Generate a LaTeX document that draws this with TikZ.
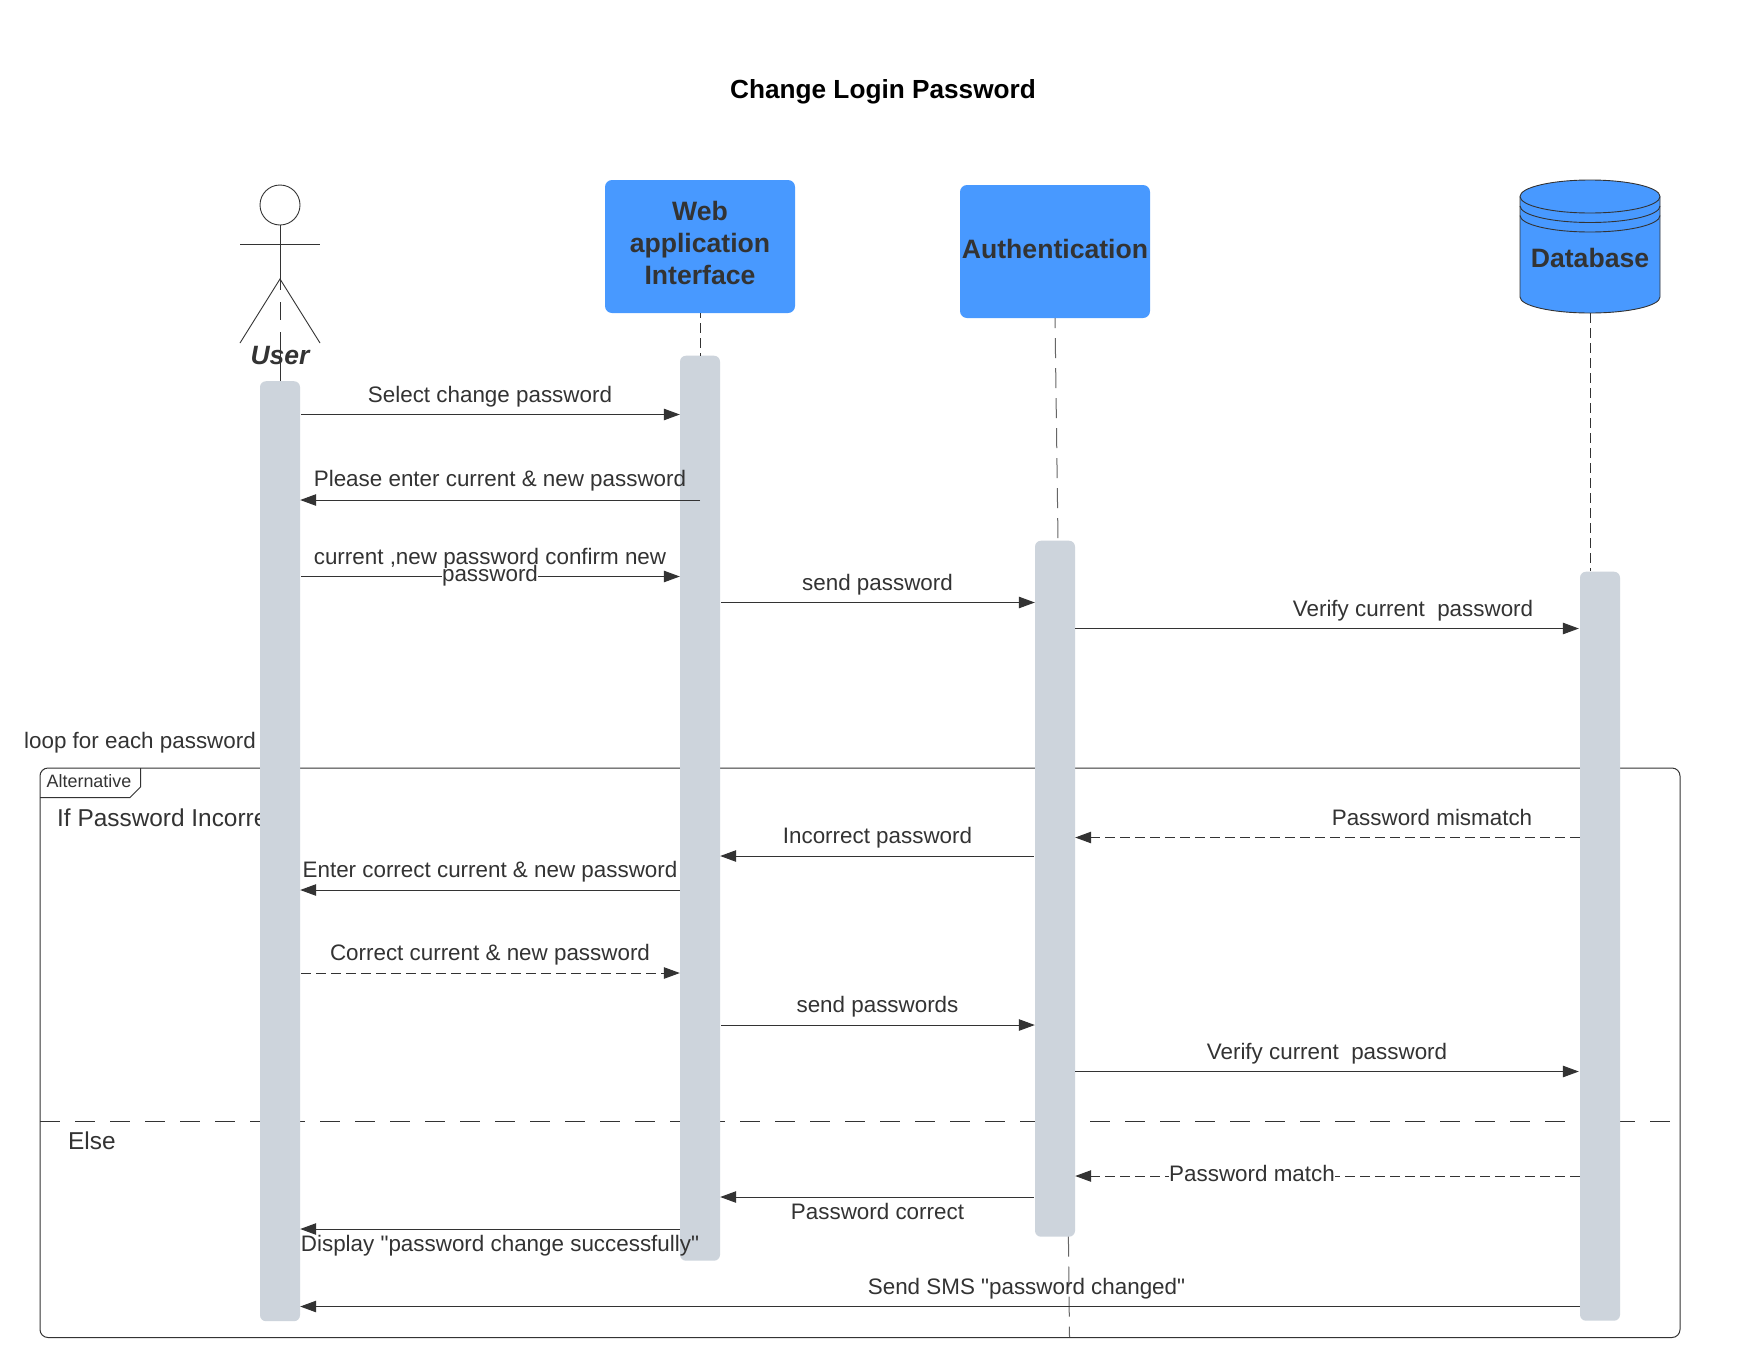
\documentclass[tikz,border=0pt]{standalone}
\usepackage{fontspec}
\setmainfont[Ligatures=TeXOff]{Liberation Sans}
\usetikzlibrary{arrows.meta}
\definecolor{ink}{HTML}{333333}
\definecolor{boxblue}{HTML}{4899FF}
\definecolor{bar}{HTML}{CDD4DC}
\definecolor{life}{HTML}{666666}
\tikzset{
  x=1pt,y=-1pt,
  lbl/.style={inner sep=0pt,text=ink,text height=16pt,text depth=5pt,font=\fontsize{22.4}{26}\selectfont},
  biglbl/.style={lbl,font=\fontsize{24.4}{28}\selectfont},
  actbar/.style={fill=bar,draw=none,rounded corners=6pt,minimum width=40pt,inner sep=0pt,anchor=north},
  head/.style={fill=boxblue,draw=none,rounded corners=7pt,minimum width=190pt,inner sep=0pt},
  headtext/.style={inner sep=0pt,text=ink,align=center,font=\bfseries\fontsize{26.6}{32}\selectfont},
  msg/.style={draw=ink,line width=1pt,-{Triangle[length=16pt,width=11.5pt]}},
  dmsg/.style={msg,dash pattern=on 10pt off 5pt},
  lifeline/.style={draw=ink,line width=1pt,dash pattern=on 10pt off 5pt},
  lifelong/.style={draw=life,line width=1pt,dash pattern=on 20pt off 10pt},
  stick/.style={draw=ink,line width=.9pt},
  frameline/.style={draw=ink,line width=1pt},
}
\begin{document}
\begin{tikzpicture}
\useasboundingbox (0,0) rectangle (1760,1360);
\fill[white] (0,0) rectangle (1760,1360);

% message rows
\foreach \n/\y in {m1/414.5,m2/500,m3/576.5,m4/602.5,m5/628.5,m6/837.5,m7/856,m8/890,m9/973,m10/1025,m11/1071.5,m12/1176,m13/1197,m14/1229,m15/1306.5}
  \coordinate (\n) at (0,\y);

% title
\node[inner sep=0pt,text=black,font=\bfseries\fontsize{26.2}{30}\selectfont] (title) at (883,91.5) {Change Login Password};

% frame
\coordinate (frTL) at (40,768);
\coordinate (frBR) at (1680,1337.5);
\coordinate (tabA) at (140.5,768);
\coordinate (tabB) at (140.5,787);
\coordinate (tabC) at (130,797.5);
\coordinate (tabD) at (40,797.5);
\coordinate (partL) at (40,1121);
\coordinate (partR) at (1671,1121);
\draw[frameline,rounded corners=8pt] (frTL) rectangle (frBR);
\draw[frameline] (tabA) -- (tabB) -- (tabC) -- (tabD);
\draw[frameline,dash pattern=on 20pt off 15pt] (partL) -- (partR);
\node[lbl,font=\fontsize{17.9}{21}\selectfont,text height=13pt,text depth=4pt] (alt) at (89,782.5) {Alternative};
\node[lbl,anchor=west] (loop) at (24,743) {loop for each password};
\node[biglbl,anchor=west] (incorrect) at (57,821) {If Password Incorrect};
\node[biglbl,anchor=west] (else) at (68,1143.5) {Else};

% actor
\coordinate (uc) at (280,205);
\node[draw=ink,line width=.9pt,circle,minimum size=40pt,inner sep=0pt] (uhead) at (uc) {};
\coordinate (hip) at (280,279);
\coordinate (armL) at (240,244);
\coordinate (armR) at (320,244);
\coordinate (footL) at (240,343);
\coordinate (footR) at (320,343);
\draw[stick] (uhead.south) -- (hip);
\draw[stick] (armL) -- (armR);
\draw[stick] (footL) -- (hip) -- (footR);
\node[lbl,font=\bfseries\itshape\fontsize{26.5}{30}\selectfont,text height=18pt,text depth=1pt] (user) at (280,356) {User};

% heads
\node[head,minimum height=133pt] (web) at (700,246.5) {};
\node[headtext] (webt) at (700,243) {Web\\application\\Interface};
\node[head,minimum height=133pt] (auth) at (1055,251.5) {};
\node[headtext] (autht) at (1055,248.5) {Authentication};

% database
\fill[boxblue,draw=ink,line width=.9pt] (1520,196.5) arc[start angle=180,end angle=360,x radius=70,y radius=16.5] -- (1660,297) arc[start angle=0,end angle=180,x radius=70,y radius=16] -- cycle;
\draw[ink,line width=.9pt] (1520,196.5) arc[start angle=180,end angle=0,x radius=70,y radius=16.5];
\draw[ink,line width=.9pt] (1520,206) arc[start angle=180,end angle=0,x radius=70,y radius=16.5];
\draw[ink,line width=.9pt] (1520,215.5) arc[start angle=180,end angle=0,x radius=70,y radius=16.5];
\node[inner sep=0pt,minimum width=140pt,minimum height=134pt] (db) at (1590,246) {};
\node[headtext] (dbt) at (1590,258) {Database};

% activation bars
\node[actbar,minimum height=940pt] (uact) at (280,381) {};
\node[actbar,minimum height=905pt] (wact) at (700,355.5) {};
\node[actbar,minimum height=696pt] (aact) at (1055,540.5) {};
\node[actbar,minimum height=749pt] (dact) at (1600,571.5) {};

% lifelines
\coordinate (ustart) at (280,279);
\coordinate (aend) at (1069.5,1337);
\coordinate (atop) at (1058,540);
\coordinate (abot) at (1068.4,1236.5);
\coordinate (dtop) at (1590,571);
\draw[draw=ink,line width=1pt,dash pattern=on 11pt off 12pt on 18pt off 12pt on 60pt] (ustart) -- (uact.north);
\draw[lifeline,dash phase=5pt] (web.south) -- (wact.north);
\draw[lifelong,dash phase=10pt] (auth.south) -- (atop);
\draw[lifelong] (abot) -- (aend);
\draw[lifeline] (db.south) -- (dtop);

% messages
\draw[msg] (uact.east |- m1) ++(1,0) -- (wact.west |- m1);
\draw[msg] (wact.center |- m2) -- (uact.east |- m2);
\draw[msg] (uact.east |- m3) ++(1,0) -- (wact.west |- m3);
\draw[msg] (wact.east |- m4) ++(1,0) -- (aact.west |- m4);
\draw[msg] (aact.east |- m5) -- ([xshift=-1pt]dact.west |- m5);
\draw[dmsg] (dact.west |- m6) -- (aact.east |- m6);
\draw[msg] (aact.west |- m7) ++(-1,0) -- (wact.east |- m7);
\draw[msg] (wact.west |- m8) -- (uact.east |- m8);
\draw[dmsg] (uact.east |- m9) ++(1,0) -- (wact.west |- m9);
\draw[msg] (wact.east |- m10) ++(1,0) -- (aact.west |- m10);
\draw[msg] (aact.east |- m11) -- ([xshift=-1pt]dact.west |- m11);
\draw[dmsg] (dact.west |- m12) -- (aact.east |- m12);
\draw[msg] (aact.west |- m13) ++(-1,0) -- (wact.east |- m13);
\draw[msg] (wact.west |- m14) -- (uact.east |- m14);
\draw[msg] (dact.west |- m15) -- (uact.east |- m15);

% labels
\node[lbl] (l1) at (490,396.5) {Select change password};
\node[lbl] (l2) at (500,481) {Please enter current \& new password};
\node[lbl] (l3a) at (490,558.5) {current ,new password confirm new};
\node[lbl,fill=white,text height=14pt,text depth=5pt] (l3b) at (490,577) {password};
\node[lbl] (l4) at (877.5,585) {send password};
\node[lbl] (l5) at (1413,611) {Verify current\ \ password};
\node[lbl] (l6) at (1432,819.5) {Password mismatch};
\node[lbl] (l7) at (877.5,838) {Incorrect password};
\node[lbl] (l8) at (490,872) {Enter correct current \& new password};
\node[lbl] (l9) at (490,955) {Correct current \& new password};
\node[lbl] (l10) at (877.5,1007) {send passwords};
\node[lbl] (l11) at (1327,1053.5) {Verify current\ \ password};
\node[lbl,fill=white,text height=15pt,text depth=2pt] (l12) at (1252,1175) {Password match};
\node[lbl] (l13) at (877.5,1214) {Password correct};
\node[lbl] (l14) at (500,1245.5) {Display "password change successfully"};
\node[lbl] (l15) at (1026.5,1288.5) {Send SMS "password changed"};
\end{tikzpicture}
\end{document}
